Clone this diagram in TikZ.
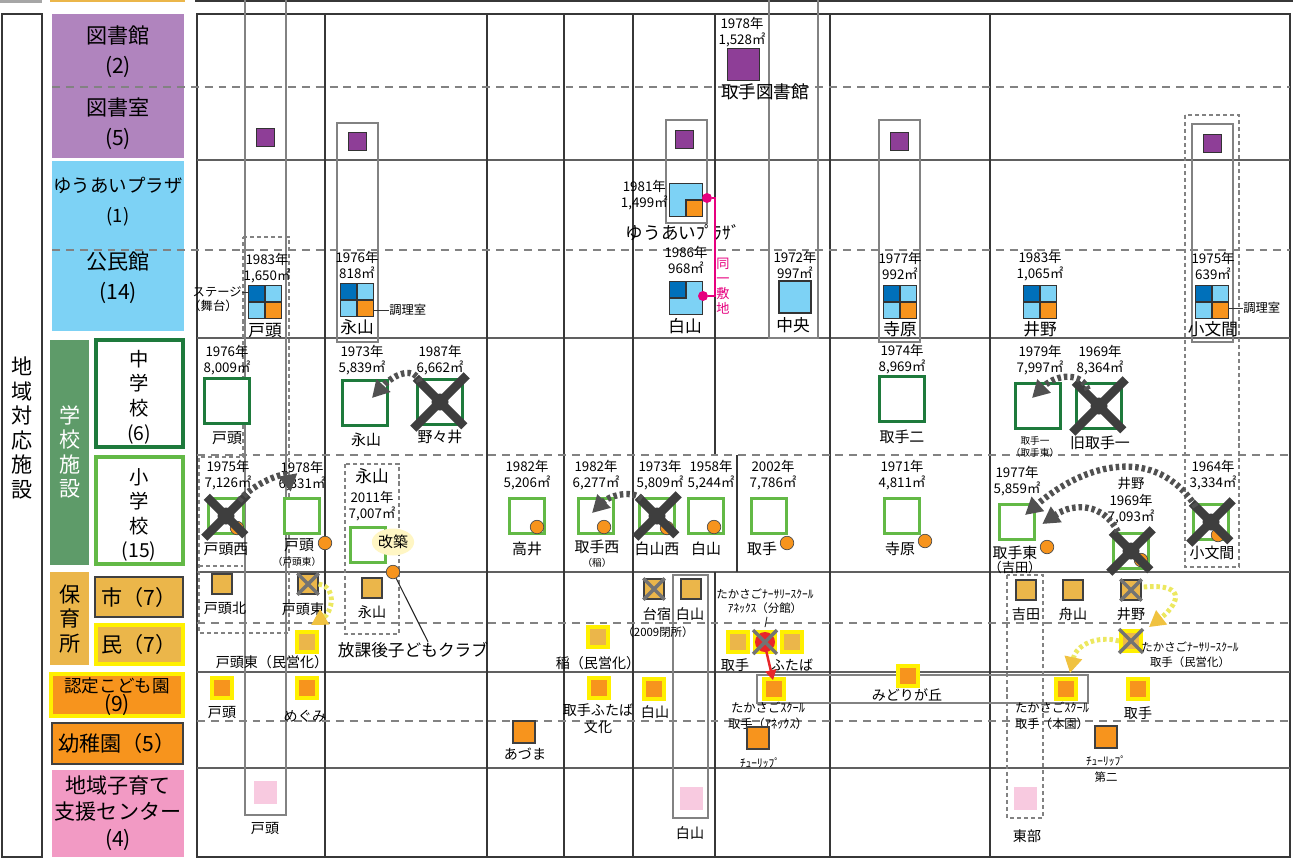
\documentclass[tikz,border=0pt]{standalone}
\usepackage{fontspec}
\setmainfont{Noto Sans CJK JP}
\usetikzlibrary{arrows.meta,calc,shapes.geometric}
\definecolor{libpur}{RGB}{142,62,151}
\definecolor{libbg}{RGB}{176,132,190}
\definecolor{kmlt}{RGB}{125,210,245}
\definecolor{kmdk}{RGB}{0,112,186}
\definecolor{orng}{RGB}{247,148,29}
\definecolor{hoiku}{RGB}{235,182,74}
\definecolor{ylw}{RGB}{255,240,0}
\definecolor{pnkbg}{RGB}{242,154,196}
\definecolor{pnksq}{RGB}{248,202,224}
\definecolor{jgrn}{RGB}{30,122,60}
\definecolor{egrn}{RGB}{99,185,70}
\definecolor{schbg}{RGB}{94,155,105}
\definecolor{xgray}{RGB}{62,62,62}
\definecolor{mag}{RGB}{230,0,126}
\definecolor{arryl}{RGB}{236,232,96}
\definecolor{arrhd}{RGB}{240,194,64}
\definecolor{gridc}{RGB}{55,55,55}
\definecolor{colb}{RGB}{130,130,130}
\definecolor{kaiyel}{RGB}{255,246,196}
\definecolor{redc}{RGB}{232,38,42}

\tikzset{
  yr/.style={font=\fontsize{7.6}{9.4}\selectfont},
  nm/.style={font=\fontsize{8.5}{10}\selectfont},
  nmb/.style={font=\fontsize{9.5}{11}\selectfont},
  nms/.style={font=\fontsize{8}{9.5}\selectfont},
  smt/.style={font=\fontsize{5.5}{6.5}\selectfont},
  hk/.style={font=\fontsize{7}{9.5}\selectfont},
  cat/.style={font=\fontsize{12}{17}\selectfont},
  catv/.style={font=\fontsize{12}{14}\selectfont},
  gline/.style={gridc,line width=1pt},
  dline/.style={colb,line width=0.9pt,dash pattern=on 4.5pt off 3.4pt},
  colbox/.style={colb,line width=1.1pt},
  dbox/.style={colb,line width=0.9pt,dash pattern=on 2.3pt off 1.7pt},
  libsq/.style={draw=black!80,fill=libpur,minimum size=0.36cm},
  kmq/.style={draw=black!80,line width=0.6pt,fill=kmlt,minimum size=0.66cm,
    path picture={
      \fill[kmdk] (path picture bounding box.north west) rectangle (path picture bounding box.center);
      \fill[orng] (path picture bounding box.south east) rectangle (path picture bounding box.center);
      \draw[black!80,line width=0.6pt] (path picture bounding box.north) -- (path picture bounding box.south)
        (path picture bounding box.west) -- (path picture bounding box.east);}},
  yuaisq/.style={draw=black!80,line width=0.6pt,fill=kmlt,minimum size=0.66cm,
    path picture={
      \draw[black!80,line width=0.6pt,fill=orng] (path picture bounding box.south east) rectangle (path picture bounding box.center);}},
  hakusq/.style={draw=black!80,line width=0.6pt,fill=kmlt,minimum size=0.66cm,
    path picture={
      \draw[black!80,line width=0.6pt,fill=kmdk] (path picture bounding box.north west) rectangle (path picture bounding box.center);}},
  kmsq/.style={draw=black!80,line width=0.6pt,fill=kmlt,minimum size=0.64cm},
  jhs/.style={draw=jgrn,line width=2pt,fill=white,minimum size=0.9cm},
  esq/.style={draw=egrn,line width=2pt,fill=white,minimum size=0.7cm},
  ocirc/.style={circle,draw=black!70,line width=0.4pt,fill=orng,minimum size=0.27cm},
  hsq/.style={draw=black!75,line width=0.8pt,fill=hoiku,minimum size=0.4cm},
  msq/.style={draw=ylw,line width=2.2pt,fill=hoiku,minimum size=0.4cm},
  nsq/.style={draw=ylw,line width=2.2pt,fill=orng,minimum size=0.4cm},
  ksq/.style={draw=black!75,line width=0.8pt,fill=orng,minimum size=0.44cm},
  psq/.style={fill=pnksq,minimum size=0.46cm},
  mdot/.style={circle,fill=mag,minimum size=0.2cm},
  bigx/.style={draw=xgray,line width=5pt,shorten <=-2pt,shorten >=-2pt},
  smx/.style={draw=black!55,line width=2pt},
  darr/.style={draw=xgray!90,line width=3.6pt,dash pattern=on 2pt off 1.7pt,
    -{Triangle[length=0.34cm,width=0.36cm]}},
  ydarr/.style={draw=arryl,line width=2.8pt,dash pattern=on 2pt off 1.6pt,
    -{Triangle[length=0.32cm,width=0.34cm,color=arrhd]}},
  rarr/.style={draw=redc,line width=1.4pt,-{Triangle[length=0.2cm,width=0.22cm]}}
}
\newcommand\schx[1]{\draw[bigx] (#1.north west) -- (#1.south east) (#1.north east) -- (#1.south west);
  \fill[xgray] (#1.center) circle[radius=0.17cm];}
\newcommand\dcx[1]{\draw[smx] (#1.north west) -- (#1.south east) (#1.north east) -- (#1.south west);}

\begin{document}
\begin{tikzpicture}[x=0.02cm,y=-0.02cm,every node/.style={inner sep=0pt,align=center}]
\useasboundingbox (0,0) rectangle (1293,859);

% top strip
\fill[gray!70] (0,0) rectangle (42,3);
\draw[hoiku,line width=1.2pt] (50,1) -- (185,1);
\draw[gridc,line width=1.2pt] (195,1) -- (1293,1);

% category column
\draw[gridc,line width=1.4pt,fill=white] (2,14) rectangle (42,857);
\node[catv] (chiiki) at (22,428) {地\\域\\対\\応\\施\\設};
\fill[libbg] (52,14) rectangle (184,158);
\fill[kmlt] (52,161) rectangle (184,331);
\fill[schbg] (50,340) rectangle (89,565);
\draw[jgrn,line width=2pt,fill=white] (96,340) rectangle (183,447);
\draw[egrn,line width=2pt,fill=white] (96,457) rectangle (183,564);
\fill[hoiku] (50,572) rectangle (89,665);
\draw[black!75,line width=0.9pt,fill=hoiku] (95,577) rectangle (183,617);
\draw[ylw,line width=2.2pt,fill=hoiku] (96,625) rectangle (183,664);
\draw[ylw,line width=2.2pt,fill=orng] (51,674) rectangle (183,716);
\draw[black!75,line width=0.9pt,fill=orng] (52,723) rectangle (183,764);
\fill[pnkbg] (52,770) rectangle (184,857);

% grid
\draw[gridc,line width=1.2pt] (197,14) rectangle (1290,857);
\foreach \y in {160,338,572,672,768} \draw[gline,gray!75!black] (197,\y) -- (1290,\y);
\foreach \x in {325,487,564,633,830,990} \draw[gline] (\x,14) -- (\x,857);
\draw[gline] (715,14) -- (715,455) (737,455) -- (737,572) (715,572) -- (715,857);
\foreach \y in {87,250} \draw[dline] (52,\y) -- (1290,\y);
\foreach \y in {455,623,721} \draw[dline] (197,\y) -- (1290,\y);

% category labels
\node[cat] (clib) at (118,52) {図書館\\(2)};
\node[cat] (croom) at (118,124) {図書室\\(5)};
\node[font=\fontsize{10.5}{17}\selectfont] (cyuai) at (118,202) {ゆうあいプラザ\\(1)};
\node[cat] (ckomin) at (118,278) {公民館\\(14)};
\node[catv,text=white] (cschool) at (70,452) {学\\校\\施\\設};
\node[font=\fontsize{11}{14}\selectfont] (cjhs) at (139,397) {中\\学\\校\\(6)};
\node[font=\fontsize{11}{14}\selectfont] (ces) at (139,515) {小\\学\\校\\(15)};
\node[catv] (choiku) at (70,619) {保\\育\\所};
\node[cat] (cshi) at (139,597) {市（7）};
\node[cat] (cmin) at (139,644) {民（7）};
\node[font=\fontsize{10}{11}\selectfont] (cnintei) at (117,697) {認定こども園\\{\fontsize{12}{12}\selectfont (9)}};
\node[cat] (cyochi) at (117,743) {幼稚園（5）};
\node[font=\fontsize{12}{15}\selectfont] (ckosodate) at (118,813) {地域子育て\\支援センター\\(4)};

% column boxes
\draw[colbox] (245,-3) rectangle (286,815);
\draw[colbox] (769,-3) rectangle (818,338);
\draw[colbox] (337,123) rectangle (378,342);
\draw[colbox] (666,120) rectangle (707,223);
\draw[colbox] (879,120) rectangle (920,342);
\draw[colbox] (1192,124) rectangle (1233,342);
\draw[colbox] (673,575) rectangle (708,818);
\draw[colbox] (757,675) rectangle (1088,703);
\draw[dbox] (1185,115) rectangle (1239,567);
\draw[dbox] (1007,575) rectangle (1043,818);
\draw[dbox] (345,464) rectangle (399,634);
\draw[dbox] (243,237) -- (289,237) -- (289,633) -- (199,633) -- (199,457) -- (243,457) -- cycle;
\draw[dbox] (199,566) -- (243,566);

% libraries
\node[libsq,minimum size=0.64cm] (libtoride) at (743,64) {};
\node[yr] (ylibtoride) at (742,32) {1978年\\1,528㎡};
\node[font=\fontsize{10}{11}\selectfont] (nlibtoride) at (765,92) {取手図書館};
\node[libsq] (rtoh) at (265,137) {};
\node[libsq] (rnaga) at (357,141) {};
\node[libsq] (ryuai) at (684,139) {};
\node[libsq] (rtera) at (899,141) {};
\node[libsq] (rkobu) at (1212,143) {};

% community centres
\node[yuaisq] (kyuai) at (686,200) {};
\node[yr,anchor=east] (ykyuai) at (668,195) {1981年\\1,499㎡};
\node[font=\fontsize{10}{11}\selectfont] (nkyuai) at (683,233) {ゆうあいﾌﾟﾗｻﾞ};
\node[hakusq] (kmhaku) at (686,298) {};
\node[yr] (ykmhaku) at (686,260) {1986年\\968㎡};
\node[nmb] (nkmhaku) at (685,326) {白山};
\node[mdot] (dotA) at (707,198) {};
\node[mdot] (dotB) at (703,296) {};
\draw[mag,line width=1.1pt] (dotA) -- ++(8,0) |- (dotB);
\node[font=\fontsize{7.5}{8.6}\selectfont,text=mag] (ndoitsu) at (723,286) {同\\一\\敷\\地};
\node[kmsq] (kmchuo) at (795,297) {};
\node[yr] (ykmchuo) at (795,265) {1972年\\997㎡};
\node[nmb] (nkmchuo) at (793,325) {中央};
\node[kmq] (kmtoh) at (265,302) {};
\node[yr] (ykmtoh) at (267,268) {1983年\\1,650㎡};
\node[nmb] (nkmtoh) at (265,331) {戸頭};
\node[font=\fontsize{7}{8}\selectfont,anchor=east] (stage) at (242,292) {ステージ};
\node[font=\fontsize{7}{8}\selectfont] (butai) at (213,306) {（舞台）};
\draw[black!80,line width=0.5pt] (stage.east) -- (stage.east -| kmtoh.west);
\node[kmq] (kmnaga) at (357,300) {};
\node[yr] (ykmnaga) at (357,265) {1976年\\818㎡};
\node[nmb] (nkmnaga) at (357,327) {永山};
\node[font=\fontsize{7}{8}\selectfont,anchor=west] (chori1) at (389,310) {調理室};
\draw[black!80,line width=0.5pt] (kmnaga.east |- chori1) -- (chori1.west);
\node[kmq] (kmtera) at (900,302) {};
\node[yr] (ykmtera) at (900,266) {1977年\\992㎡};
\node[nmb] (nkmtera) at (900,329) {寺原};
\node[kmq] (kmino) at (1040,302) {};
\node[yr] (ykmino) at (1040,266) {1983年\\1,065㎡};
\node[nmb] (nkmino) at (1040,329) {井野};
\node[kmq] (kmkobu) at (1212,302) {};
\node[yr] (ykmkobu) at (1213,266) {1975年\\639㎡};
\node[nmb] (nkmkobu) at (1213,329) {小文間};
\node[font=\fontsize{7}{8}\selectfont,anchor=west] (chori2) at (1243,308) {調理室};
\draw[black!80,line width=0.5pt] (kmkobu.east |- chori2) -- (chori2.west);

% junior high schools
\node[jhs] (jtoh) at (227,401) {};
\node[yr] (yjtoh) at (227,360) {1976年\\8,009㎡};
\node[nm] (njtoh) at (227,438) {戸頭};
\node[jhs] (jnaga) at (365,403) {};
\node[yr] (yjnaga) at (362,360) {1973年\\5,839㎡};
\node[nm] (njnaga) at (366,440) {永山};
\node[jhs] (jnono) at (440,402) {};
\schx{jnono}
\node[yr] (yjnono) at (440,360) {1987年\\6,662㎡};
\node[nm] (njnono) at (440,437) {野々井};
\node[jhs] (jtori2) at (902,399) {};
\node[yr] (yjtori2) at (902,359) {1974年\\8,969㎡};
\node[nm] (njtori2) at (902,437) {取手二};
\node[jhs] (jtori1) at (1038,406) {};
\node[yr] (yjtori1) at (1040,360) {1979年\\7,997㎡};
\node[smt] (njtori1) at (1035,447) {取手一\\（取手東）};
\node[jhs] (jkyu) at (1099,406) {};
\schx{jkyu}
\node[yr] (yjkyu) at (1100,360) {1969年\\8,364㎡};
\node[nm] (njkyu) at (1100,443) {旧取手一};
\draw[darr] ($(jnono.north west)+(4,4)$) .. controls +(-5,-16) and +(22,-24) .. ($(jnaga.center)+(7,-5)$);
\draw[darr] ($(jkyu.north west)+(13,8)$) .. controls +(-6,-18) and +(24,-24) .. ($(jtori1.center)+(-6,-8)$);

% elementary schools
\node[esq] (etnishi) at (226,516) {};
\node[ocirc] (cetnishi) at (237,528) {};
\schx{etnishi}
\node[yr] (yetnishi) at (228,475) {1975年\\7,126㎡};
\node[nm] (netnishi) at (226,549) {戸頭西};
\node[esq] (etoh) at (302,516) {};
\node[ocirc] (cetoh) at (325,543) {};
\node[yr] (yetoh) at (302,476) {1978年\\6,331㎡};
\node[nm] (netoh) at (299,545) {戸頭};
\node[smt] (netoh2) at (297,562) {（戸頭東）};
\node[esq] (enaga) at (368,545) {};
\node[nmb] (nenaga) at (372,476) {永山};
\node[yr] (yenaga) at (372,506) {2011年\\7,007㎡};
\node[ellipse,fill=kaiyel,minimum width=0.8cm,minimum height=0.54cm,nm] (kaichiku) at (393,542) {改築};
\node[ocirc] (cenaga) at (393,572) {};
\node[font=\fontsize{9.5}{11}\selectfont] (houkago) at (413,650) {放課後子どもクラブ};
\draw[black!85,line width=0.6pt] (cenaga) -- ($(houkago.north)+(15,0)$);
\node[esq] (etakai) at (527,516) {};
\node[ocirc] (cetakai) at (537,527) {};
\node[yr] (yetakai) at (527,475) {1982年\\5,206㎡};
\node[nm] (netakai) at (527,549) {高井};
\node[esq] (etornishi) at (596,516) {};
\node[ocirc] (cetornishi) at (604,527) {};
\node[yr] (yetornishi) at (596,475) {1982年\\6,277㎡};
\node[nm] (netornishi) at (597,547) {取手西};
\node[smt] (netornishi2) at (597,563) {（稲）};
\node[esq] (ehnishi) at (657,516) {};
\node[ocirc] (cehnishi) at (667,528) {};
\schx{ehnishi}
\node[yr] (yehnishi) at (660,475) {1973年\\5,809㎡};
\node[nm] (nehnishi) at (657,549) {白山西};
\node[esq] (ehaku) at (706,516) {};
\node[ocirc] (cehaku) at (714,527) {};
\node[yr] (yehaku) at (711,475) {1958年\\5,244㎡};
\node[nm] (nehaku) at (706,549) {白山};
\node[esq] (etori) at (769,516) {};
\node[yr] (yetori) at (773,475) {2002年\\7,786㎡};
\node[nm] (netori) at (762,549) {取手};
\node[ocirc] (cetori) at (787,543) {};
\node[esq] (etera) at (902,516) {};
\node[yr] (yetera) at (902,475) {1971年\\4,811㎡};
\node[nm] (netera) at (900,549) {寺原};
\node[ocirc] (cetera) at (925,541) {};
\node[esq] (etohig) at (1017,522) {};
\node[yr] (yetohig) at (1017,481) {1977年\\5,859㎡};
\node[nm] (netohig) at (1015,553) {取手東};
\node[font=\fontsize{7.5}{8}\selectfont] (netohig2) at (1015,567) {（吉田）};
\node[ocirc] (cetohig) at (1047,547) {};
\node[esq] (eino) at (1131,551) {};
\node[ocirc] (ceino) at (1141,560) {};
\schx{eino}
\node[yr] (yeino) at (1131,501) {井野\\1969年\\7,093㎡};
\node[esq] (ekobu) at (1211,522) {};
\node[ocirc] (cekobu) at (1218,535) {};
\schx{ekobu}
\node[yr] (yekobu) at (1213,475) {1964年\\3,334㎡};
\node[nm] (nekobu) at (1212,553) {小文間};
\draw[darr] ($(etnishi.north east)+(-6,4)$) .. controls +(12,-16) and +(-4,-22) .. ($(etoh.north west)+(8,-5)$);
\draw[darr] ($(ehnishi.north west)+(4,2)$) .. controls +(-12,-10) and +(16,-16) .. ($(etornishi.center)+(-4,-3)$);
\draw[darr] ($(ekobu.north west)+(4,4)$) .. controls +(-40,-62) and +(60,-52) .. ($(etohig.center)+(8,-7)$);
\draw[darr] ($(eino.north west)+(6,0)$) .. controls +(-14,-28) and +(32,-22) .. ($(etohig.east)+(6,2)$);

% nursery: city
\node[hsq] (htohkita) at (222,584) {};
\node[nms] (nhtohkita) at (225,608) {戸頭北};
\node[hsq] (htohhig) at (308,584) {};
\dcx{htohhig}
\node[nms] (nhtohhig) at (303,609) {戸頭東};
\node[hsq] (hnaga) at (372,588) {};
\node[nms] (nhnaga) at (372,612) {永山};
\node[hsq] (hdaiju) at (654,589) {};
\dcx{hdaiju}
\node[nms] (nhdaiju) at (657,614) {台宿};
\node[font=\fontsize{6.5}{7}\selectfont] (nhdaiju2) at (658,632) {（2009閉所）};
\node[hsq] (hhaku) at (691,589) {};
\node[nms] (nhhaku) at (690,614) {白山};
\node[hsq] (hyoshi) at (1026,590) {};
\node[nms] (nhyoshi) at (1026,614) {吉田};
\node[hsq] (hfuna) at (1073,590) {};
\node[nms] (nhfuna) at (1073,614) {舟山};
\node[hsq] (hino) at (1131,590) {};
\dcx{hino}
\node[nms] (nhino) at (1131,614) {井野};

% nursery: private
\node[msq] (mtohhig) at (307,642) {};
\node[nms] (nmtohhig) at (272,662) {戸頭東（民営化）};
\node[msq] (mina) at (598,637) {};
\node[nms] (nmina) at (598,663) {稲（民営化）};
\node[msq] (mtori) at (738,642) {};
\node[nms] (nmtori) at (735,665) {取手};
\node[msq] (mtakaanx) at (765,642) {};
\fill[redc] (mtakaanx.center) circle[radius=0.2cm];
\dcx{mtakaanx}
\node[font=\fontsize{6.5}{8}\selectfont] (nmtakaanx) at (765,601) {たかさごﾅｰｻﾘｰｽｸｰﾙ\\ｱﾈｯｸｽ（分館）};
\draw[black!85,line width=0.5pt] ($(nmtakaanx.south)+(2,3)$) -- ($(mtakaanx.north)+(0,-3)$);
\node[msq] (mfuta) at (792,642) {};
\node[nms] (nmfuta) at (792,665) {ふたば};
\node[msq] (mtakatori) at (1131,641) {};
\dcx{mtakatori}
\node[font=\fontsize{6.5}{8.5}\selectfont] (nmtakatori) at (1190,655) {たかさごﾅｰｻﾘｰｽｸｰﾙ\\取手（民営化）};
\draw[ydarr] (htohhig.east) .. controls +(20,4) and +(20,-12) .. ($(mtohhig.north)+(4,-5)$);
\draw[ydarr] ($(hino.east)+(2,-3)$) .. controls +(48,-4) and +(26,-20) .. ($(mtakatori.north east)+(6,-2)$);

% certified
\node[nsq] (ntoh) at (222,688) {};
\node[nms] (nntoh) at (222,713) {戸頭};
\node[nsq] (nmegu) at (307,688) {};
\node[nms] (nnmegu) at (305,716) {めぐみ};
\node[nsq] (nfuta) at (599,688) {};
\node[nms] (nnfuta) at (598,719) {取手ふたば\\文化};
\node[nsq] (nhaku) at (654,689) {};
\node[nms] (nnhaku) at (655,712) {白山};
\node[nsq] (ntakaanx) at (774,689) {};
\node[hk] (nntakaanx) at (768,716) {たかさごｽｸｰﾙ\\取手（ｱﾈｯｸｽ）};
\node[nsq] (nmidori) at (908,676) {};
\node[nms] (nnmidori) at (907,695) {みどりが丘};
\node[nsq] (ntakahon) at (1066,689) {};
\node[hk] (nntakahon) at (1052,716) {たかさごｽｸｰﾙ\\取手（本園）};
\node[nsq] (ntori) at (1138,689) {};
\node[nms] (nntori) at (1138,713) {取手};
\draw[rarr] ($(mtakaanx.south)+(1,-4)$) -- ($(ntakaanx.north)+(-1,3)$);
\draw[ydarr] (mtakatori.west) .. controls +(-22,-6) and +(6,-28) .. ($(ntakahon.north)+(4,-4)$);

% kindergartens
\node[ksq] (kazuma) at (524,732) {};
\node[nms] (nkazuma) at (525,754) {あづま};
\node[ksq] (ktulip) at (758,738) {};
\node[font=\fontsize{6.5}{7}\selectfont] (nktulip) at (760,763) {ﾁｭｰﾘｯﾌﾟ};
\node[ksq] (ktulip2) at (1106,737) {};
\node[font=\fontsize{6.5}{9.5}\selectfont] (nktulip2) at (1106,769) {ﾁｭｰﾘｯﾌﾟ\\第二};

% child-rearing support centres
\node[psq] (ptoh) at (265,792) {};
\node[nms] (nptoh) at (265,829) {戸頭};
\node[psq] (phaku) at (691,798) {};
\node[nms] (nphaku) at (690,833) {白山};
\node[psq] (ptobu) at (1025,798) {};
\node[nms] (nptobu) at (1027,836) {東部};
\end{tikzpicture}
\end{document}
